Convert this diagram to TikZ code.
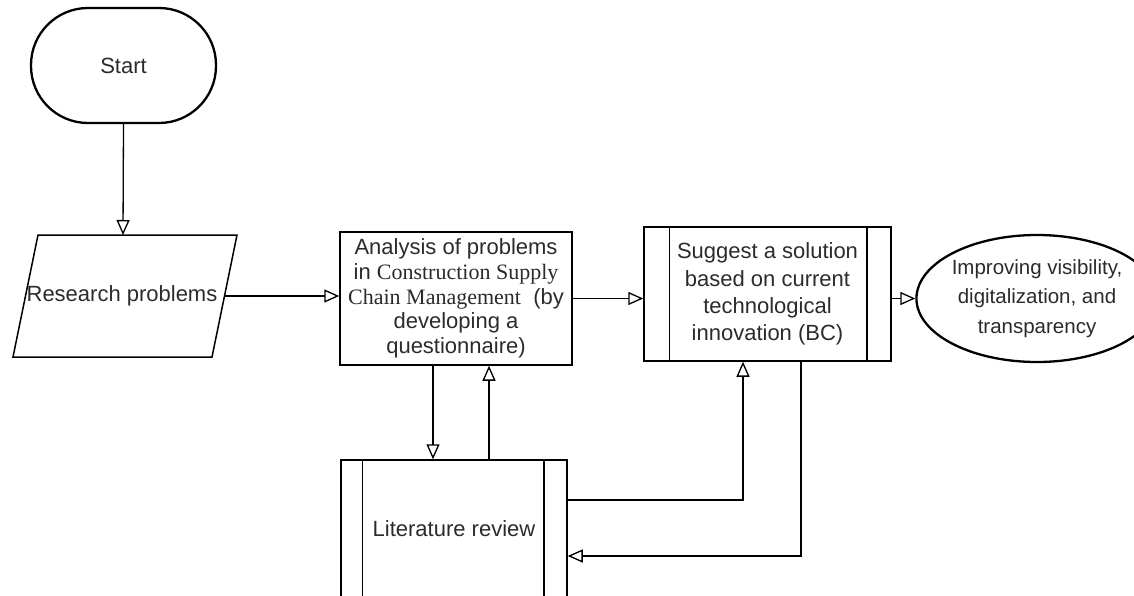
\documentclass[tikz,border=0pt]{standalone}
\usepackage{fontspec}
\setmainfont{Liberation Sans}
\newfontfamily\tnr{Liberation Serif}
\usetikzlibrary{arrows.meta,shapes.geometric}
\definecolor{txt}{HTML}{2B2B2B}
\tikzset{
  box/.style={draw=black, line width=1.5pt, rectangle, inner sep=0pt, align=center, text=txt},
  conn/.style={draw=black, line width=1.3pt, -{Triangle[open,length=15pt,width=13pt,line width=1.3pt]}},
  plain/.style={draw=black, line width=1.5pt},
}
\begin{document}
\begin{tikzpicture}[x=1pt,y=-1pt]
\useasboundingbox (0,0) rectangle (1134,596);
% Start terminator
\node[box, line width=2.3pt, minimum width=185pt, minimum height=115pt, rounded corners=57pt,
      font=\fontsize{22}{27}\selectfont] (start) at (123.5,65.5) {Start};
% Research problems parallelogram
\coordinate (p1) at (38,235);
\coordinate (p2) at (237,235);
\coordinate (p3) at (212,357);
\coordinate (p4) at (13,357);
\draw[line width=1.5pt] (p1) -- (p2) -- (p3) -- (p4) -- cycle;
\node[text=txt, inner sep=0pt, font=\fontsize{22}{27}\selectfont] (rp) at (122,296) {Research problems};
\coordinate (rpt) at (123,235);
\coordinate (rpr) at (224,296);
% Analysis box
\node[box, minimum width=232pt, minimum height=133pt, font=\fontsize{22}{24.6}\selectfont] (an) at (456,298.5)
  {Analysis of problems\\ in {\tnr Construction Supply}\\ {\tnr Chain Management} \ (by\\ developing a\\ questionnaire)};
% Suggest box (predefined process)
\node[box, minimum width=247pt, minimum height=134pt, font=\fontsize{22}{27.3}\selectfont] (sg) at (767.5,294)
  {Suggest a solution\\ based on current\\ technological\\ innovation (BC)};
\draw[plain] ([xshift=26pt]sg.north west) -- ([xshift=26pt]sg.south west);
\draw[plain] ([xshift=-25pt]sg.north east) -- ([xshift=-25pt]sg.south east);
% Ellipse
\node[box, ellipse, line width=2.3pt, minimum width=194pt, minimum height=127pt, font=\fontsize{20.5}{29.5}\selectfont] (el) at (1037,298.5)
  {Improving visibility,\\ digitalization, and\\ transparency};
% Literature review
\node[box, minimum width=226pt, minimum height=138pt, font=\fontsize{22}{27}\selectfont] (lit) at (454,529) {Literature review};
\draw[plain] ([xshift=22pt]lit.north west) -- ([xshift=22pt]lit.south west);
\draw[plain] ([xshift=-24pt]lit.north east) -- ([xshift=-24pt]lit.south east);
% helper coordinates
\coordinate (xa) at (433,0);
\coordinate (xb) at (489,0);
\coordinate (xc) at (743,0);
\coordinate (xd) at (801,0);
\coordinate (ya) at (0,500);
\coordinate (yb) at (0,556);
% connectors
\draw[conn] (start.south) -- (rpt);
\draw[conn] (rpr) -- (an.west |- rpr);
\draw[conn] (an.east) -- (sg.west |- an.east);
\draw[conn] (sg.east |- el.west) -- (el.west);
\draw[conn] (an.south -| xa) -- (lit.north -| xa);
\draw[conn] (lit.north -| xb) -- (an.south -| xb);
\draw[conn] (lit.east |- ya) -| (sg.south -| xc);
\draw[conn] (sg.south -| xd) |- (lit.east |- yb);
\end{tikzpicture}
\end{document}
